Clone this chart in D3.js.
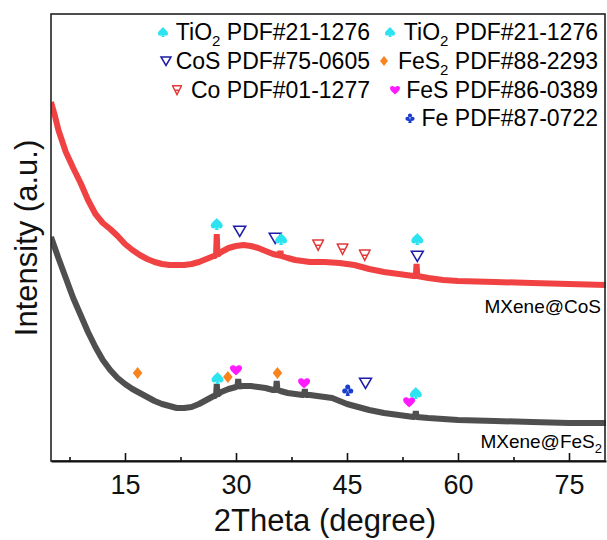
<!DOCTYPE html>
<html>
<head>
<meta charset="utf-8">
<script src="https://cdn.jsdelivr.net/npm/d3@7"></script>
<style>
  body { margin: 0; background: #fff; }
  svg text { font-family: "Liberation Sans", Arial, sans-serif; }
</style>
</head>
<body>
<div id="chart"></div>
<script>
// XRD patterns, 2theta (deg) vs intensity (a.u.)
const cosTheta = [5, 5.5, 6, 7, 8, 9, 10, 11, 12, 13, 14, 15, 16, 17, 18, 19, 20, 21, 22, 23, 24, 25, 26, 27, 27.3, 27.4, 27.5,
  28, 29, 30, 31, 32, 33, 34, 35, 35.9, 36, 36.1, 37, 38, 40, 42, 44, 46, 48, 50, 52, 54, 54.3, 54.4, 54.5, 56, 58, 60, 65, 70, 75, 80];
const cosIntensity = [3590, 3460, 3310, 3090, 2930, 2780, 2610, 2470, 2380, 2320, 2250, 2170, 2110, 2060, 2020, 1990, 1970, 1960, 1960, 1960, 1970, 1990, 2020, 2050, 2050, 2270, 2060,
  2090, 2130, 2150, 2160, 2150, 2130, 2100, 2070, 2055, 2100, 2050, 2030, 2010, 1990, 1990, 1980, 1960, 1920, 1890, 1870, 1850, 1850, 1970, 1850, 1830, 1810, 1800, 1790, 1780, 1770, 1760];

const fesTheta = [5, 6, 7, 8, 9, 10, 11, 12, 13, 14, 15, 16, 17, 18, 19, 20, 21, 22, 23, 24, 25, 26, 27, 27.3, 27.4, 27.5,
  28, 29, 30, 30.2, 30.3, 30.4, 31, 32, 33, 34, 35, 35.4, 35.5, 35.6, 36, 37, 38, 39, 39.2, 39.3, 39.4, 40, 41, 42, 43, 44, 45, 46, 48, 50, 52, 54, 54.2, 54.3, 54.4, 56, 60, 65, 70, 75, 80];
const fesIntensity = [2240, 2030, 1830, 1630, 1460, 1290, 1140, 1010, 910, 830, 770, 720, 680, 640, 600, 570, 550, 530, 530, 540, 570, 610, 650, 650, 770, 660,
  690, 720, 740, 745, 820, 745, 750, 750, 740, 730, 710, 710, 800, 710, 700, 680, 670, 660, 660, 720, 660, 660, 650, 640, 630, 600, 570, 550, 510, 480, 460, 440, 440, 500, 440, 430, 410, 400, 390, 380, 380];

// phase markers: [phase, 2theta, intensity]
const cosMarkers = [
  ["TiO2", 27.4, 2370], ["CoS", 30.5, 2300], ["CoS", 35.3, 2230], ["TiO2", 36.1, 2220],
  ["Co", 41.1, 2160], ["Co", 44.4, 2120], ["Co", 47.4, 2060], ["TiO2", 54.5, 2220], ["CoS", 54.5, 2050]
];
const fesMarkers = [
  ["FeS2", 16.7, 880], ["TiO2", 27.5, 830], ["FeS2", 28.9, 840], ["FeS", 30.0, 910], ["FeS2", 35.6, 880],
  ["FeS", 39.2, 780], ["Fe", 45.1, 710], ["CoS", 47.5, 780], ["FeS", 53.4, 590], ["TiO2", 54.3, 680]
];

const majorTicks = [15, 30, 45, 60, 75];
const minorTicks = [7.5, 22.5, 37.5, 52.5, 67.5];

// legend: [phase, text before sub, subscript, text after sub, column]
const legendItems = [
  ["TiO2", "TiO", "2", " PDF#21-1276", 0],
  ["CoS", "CoS PDF#75-0605", "", "", 0],
  ["Co", "Co PDF#01-1277", "", "", 0],
  ["TiO2", "TiO", "2", " PDF#21-1276", 1],
  ["FeS2", "FeS", "2", " PDF#88-2293", 1],
  ["FeS", "FeS PDF#86-0389", "", "", 1],
  ["Fe", "Fe PDF#87-0722", "", "", 1]
];

const W = 607, H = 540;
const margin = {left: 51, right: 1, top: 14, bottom: 79};

const svg = d3.select("#chart").append("svg")
  .attr("width", W).attr("height", H);

const x = d3.scaleLinear().domain([5, 80]).range([margin.left, W - margin.right]);
const y = d3.scaleLinear().domain([0, 4470]).range([H - margin.bottom, margin.top]);

// marker shapes, drawn around 0,0 with half size s
function markerPath(phase, s) {
  const p = d3.path();
  if (phase === "TiO2") {
    p.moveTo(0, -s);
    p.bezierCurveTo(0.35 * s, -0.55 * s, s, -0.2 * s, s, 0.3 * s);
    p.bezierCurveTo(s, 0.75 * s, 0.5 * s, 0.9 * s, 0.15 * s, 0.55 * s);
    p.lineTo(0.35 * s, s); p.lineTo(-0.35 * s, s); p.lineTo(-0.15 * s, 0.55 * s);
    p.bezierCurveTo(-0.5 * s, 0.9 * s, -s, 0.75 * s, -s, 0.3 * s);
    p.bezierCurveTo(-s, -0.2 * s, -0.35 * s, -0.55 * s, 0, -s);
    p.closePath();
  } else if (phase === "FeS") {
    p.moveTo(0, 0.9 * s);
    p.bezierCurveTo(-0.4 * s, 0.5 * s, -s, 0.1 * s, -s, -0.35 * s);
    p.bezierCurveTo(-s, -0.8 * s, -0.45 * s, -s, 0, -0.55 * s);
    p.bezierCurveTo(0.45 * s, -s, s, -0.8 * s, s, -0.35 * s);
    p.bezierCurveTo(s, 0.1 * s, 0.4 * s, 0.5 * s, 0, 0.9 * s);
    p.closePath();
  } else if (phase === "Fe") {
    const r = 0.42 * s;
    [[0, -0.5], [-0.5, 0.15], [0.5, 0.15]].forEach(c => {
      p.moveTo(c[0] * s + r, c[1] * s);
      p.arc(c[0] * s, c[1] * s, r, 0, 2 * Math.PI);
    });
    p.moveTo(-0.1 * s, 0.1 * s); p.lineTo(-0.35 * s, s); p.lineTo(0.35 * s, s); p.lineTo(0.1 * s, 0.1 * s);
    p.closePath();
  } else if (phase === "FeS2") {
    p.moveTo(0, -s); p.lineTo(0.8 * s, 0); p.lineTo(0, s); p.lineTo(-0.8 * s, 0);
    p.closePath();
  } else if (phase === "CoS") {
    p.moveTo(-s, -0.8 * s); p.lineTo(s, -0.8 * s); p.lineTo(0, 0.9 * s);
    p.closePath();
  } else if (phase === "Co") {
    p.moveTo(-s, -0.85 * s); p.lineTo(s, -0.85 * s);
    p.moveTo(-0.9 * s, -0.85 * s); p.lineTo(0, 0.9 * s); p.lineTo(0.9 * s, -0.85 * s);
    p.moveTo(-0.45 * s, 0.05 * s); p.lineTo(0.45 * s, 0.05 * s);
  }
  return p.toString();
}

const phaseStyle = {
  TiO2: {fill: "#2ee3f0", stroke: "none"},
  CoS:  {fill: "#fff", stroke: "#1c1ca8"},
  Co:   {fill: "none", stroke: "#e23a3a"},
  FeS2: {fill: "#f7841e", stroke: "none"},
  FeS:  {fill: "#ff1aff", stroke: "none"},
  Fe:   {fill: "#1a3ccf", stroke: "none"}
};

function drawMarker(g, phase, cx, cy, s) {
  const st = phaseStyle[phase];
  g.append("path")
    .attr("transform", `translate(${cx},${cy})`)
    .attr("d", markerPath(phase, s))
    .attr("fill", st.fill)
    .attr("stroke", st.stroke)
    .attr("stroke-width", 1.5)
    .attr("stroke-linejoin", "miter");
}

// curves
const line = d3.line()
  .x(d => x(d[0]))
  .y(d => y(d[1]));

svg.append("clipPath").attr("id", "plotclip")
  .append("rect")
  .attr("x", margin.left).attr("y", margin.top)
  .attr("width", W - margin.left - margin.right)
  .attr("height", H - margin.top - margin.bottom);

const curves = svg.append("g").attr("clip-path", "url(#plotclip)");

curves.append("path")
  .datum(d3.zip(fesTheta, fesIntensity))
  .attr("fill", "none")
  .attr("stroke", "#4f4f4f")
  .attr("stroke-width", 6)
  .attr("stroke-linejoin", "bevel")
  .attr("d", line);

curves.append("path")
  .datum(d3.zip(cosTheta, cosIntensity))
  .attr("fill", "none")
  .attr("stroke", "#f04242")
  .attr("stroke-width", 6)
  .attr("stroke-linejoin", "bevel")
  .attr("d", line);

// phase markers on the patterns
const markG = svg.append("g");
cosMarkers.concat(fesMarkers).forEach(m => {
  drawMarker(markG, m[0], x(m[1]), y(m[2]), 6);
});

// sample labels
svg.append("text")
  .attr("x", 601).attr("y", 313)
  .attr("text-anchor", "end")
  .style("font-size", "19px")
  .text("MXene@CoS");

const fesLabel = svg.append("text")
  .attr("x", 602).attr("y", 448)
  .attr("text-anchor", "end")
  .style("font-size", "19px");
fesLabel.append("tspan").text("MXene@FeS");
fesLabel.append("tspan").attr("dy", 5).style("font-size", "13px").text("2");

// legend
const legendRows = [32, 61, 90, 118];
const legendMarkerX = [[163, 166, 177], [390, 384, 395, 410]];
const legendRight = [370, 598];
const legend = svg.append("g");
const rowCount = [0, 0];
legendItems.forEach(item => {
  const col = item[4];
  const row = rowCount[col]++;
  const cy = legendRows[row];
  drawMarker(legend, item[0], legendMarkerX[col][row], cy, 5);
  const t = legend.append("text")
    .attr("x", legendRight[col])
    .attr("y", cy + 8)
    .attr("text-anchor", "end")
    .style("font-size", "23px");
  t.append("tspan").text(item[1]);
  if (item[2]) {
    t.append("tspan").attr("dy", 6).style("font-size", "15px").text(item[2]);
    t.append("tspan").attr("dy", -6).text(item[3]);
  }
});

// frame
svg.append("rect")
  .attr("x", margin.left).attr("y", margin.top)
  .attr("width", W - margin.left - margin.right - 1)
  .attr("height", H - margin.top - margin.bottom)
  .attr("fill", "none")
  .attr("stroke", "#222")
  .attr("stroke-width", 1.6);

// x axis, ticks pointing inward
const xAxis = svg.append("g")
  .attr("transform", `translate(0,${H - margin.bottom})`)
  .call(d3.axisBottom(x).tickValues(majorTicks).tickSizeInner(-8).tickSizeOuter(0).tickPadding(14));
xAxis.select(".domain").attr("stroke", "#111").attr("stroke-width", 2);
xAxis.selectAll(".tick line").attr("stroke", "#111").attr("stroke-width", 1.6);
xAxis.selectAll("text")
  .style("font-size", "27px")
  .style("font-family", "'Liberation Sans', Arial, sans-serif")
  .attr("fill", "#111");

const xMinor = svg.append("g")
  .attr("transform", `translate(0,${H - margin.bottom})`)
  .call(d3.axisBottom(x).tickValues(minorTicks).tickSize(-4).tickFormat(""));
xMinor.select(".domain").remove();
xMinor.selectAll(".tick line").attr("stroke", "#111").attr("stroke-width", 1.6);

// axis titles
svg.append("text")
  .attr("x", (margin.left + W) / 2 - 4)
  .attr("y", 531)
  .attr("text-anchor", "middle")
  .style("font-size", "31px")
  .attr("fill", "#111")
  .text("2Theta (degree)");

svg.append("text")
  .attr("transform", "translate(37,238) rotate(-90)")
  .attr("text-anchor", "middle")
  .style("font-size", "31px")
  .attr("fill", "#111")
  .text("Intensity (a.u.)");
</script>
</body>
</html>
